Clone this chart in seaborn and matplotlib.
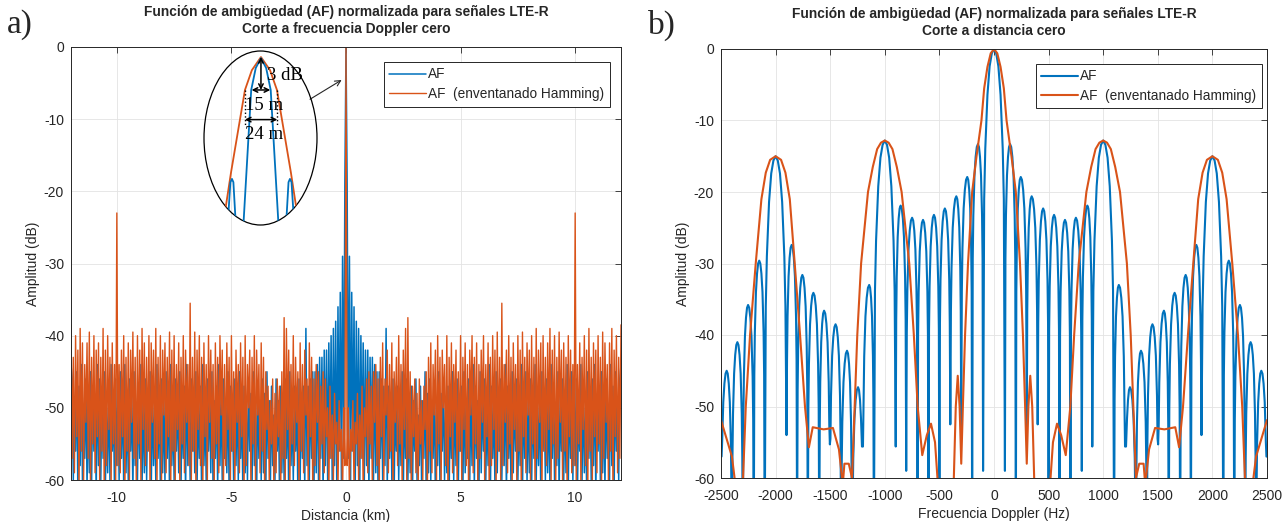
import numpy as np
import matplotlib
matplotlib.use('Agg')
import matplotlib.pyplot as plt
from matplotlib.patches import Ellipse
import seaborn as sns

# ---------------- datos ----------------
# a) corte a Doppler cero, mitad x >= 0 (la AF es simetrica), paso 0.05 km
dist_step_km = 0.05
af_dist_db = [0,
              -19, -57, -29, -60, -34, -56, -36, -62, -38, -58,
              -39, -61, -40, -57, -41, -60, -42, -58, -42, -62,
              -43, -57, -43, -60, -44, -59, -45, -62, -45, -57,
              -46, -60, -47, -58, -39, -61, -47, -57, -48, -60,
              -46, -62, -49, -56, -47, -60, -50, -58, -45, -62,
              -48, -57, -46, -60, -50, -59, -47, -62, -49, -56,
              -46, -60, -51, -58, -47, -61, -49, -57, -45, -62,
              -48, -59, -46, -60, -50, -57, -47, -62, -49, -58,
              -45, -61, -48, -56, -46, -60, -50, -59, -47, -62,
              -49, -57, -45, -60, -48, -58, -46, -61, -50, -56,
              -47, -62, -45, -59, -49, -57, -46, -60, -48, -58,
              -44, -61, -47, -57, -49, -62, -45, -59, -48, -56,
              -46, -60, -50, -58, -44, -62, -47, -57, -49, -61,
              -45, -59, -48, -56, -46, -60, -50, -58, -44, -62,
              -47, -57, -49, -61, -45, -59, -48, -56, -46, -60,
              -50, -58, -44, -62, -47, -57, -45, -60, -49, -59,
              -46, -61, -48, -57, -44, -60, -50, -58, -47, -62,
              -45, -56, -49, -60, -46, -59, -48, -61, -44, -57,
              -47, -60, -50, -58, -45, -62, -48, -56, -46, -60,
              -49, -59, -44, -61, -47, -57, -45, -60, -48, -58,
              -46, -62, -49, -56, -44, -60, -47, -59, -50, -61,
              -45, -57, -48, -60, -46, -58, -44, -62, -49, -56,
              -47, -60, -45, -59, -48, -61, -46, -57, -50, -60,
              -44, -58, -47, -62, -45, -56, -49, -60, -46, -44]
ham_dist_db = [0,
               -58, -50, -62, -53, -56, -49, -61, -52, -55, -48,
               -60, -51, -57, -47, -62, -50, -54, -46, -59, -45,
               -55, -47, -61, -45, -52, -44, -58, -46, -62, -43,
               -54, -41, -60, -46, -51, -42, -59, -44, -56, -41,
               -62, -45, -52, -43, -58, -40, -55, -44, -61, -42,
               -53, -39, -60, -37.5, -57, -45, -62, -47, -54, -46,
               -59, -48, -61, -46, -55, -49, -60, -47, -53, -45,
               -62, -43, -56, -41, -59, -44, -51, -42, -60, -40,
               -55, -43, -61, -42, -50, -44, -58, -40, -62, -43,
               -54, -41, -59, -44, -52, -42, -61, -45, -56, -40,
               -60, -43, -53, -41, -58, -44, -62, -42, -51, -40,
               -59, -43, -55, -41, -61, -44, -57, -42, -52, -40,
               -60, -44, -54, -41, -62, -43, -58, -40, -53, -42,
               -61, -39.5, -56, -43, -60, -35.5, -58, -44, -52, -42,
               -59, -40, -55, -43, -61, -41, -53, -44, -60, -40,
               -56, -42, -62, -39.5, -54, -43, -59, -41, -51, -42,
               -60, -40, -55, -43, -61, -39, -57, -42, -52, -41,
               -62, -40, -56, -43, -58, -41, -53, -39, -60, -42,
               -55, -40, -61, -43, -57, -39.5, -52, -42, -60, -41,
               -56, -43, -62, -40, -54, -42, -59, -44, -58, -23,
               -60, -44, -55, -41, -61, -43, -53, -40, -58, -42,
               -62, -39, -56, -43, -60, -41, -54, -42, -59, -40,
               -55, -43, -61, -39.5, -57, -41, -52, -44, -60, -41,
               -56, -39, -62, -42, -54, -40, -59, -43, -57, -38.5]

# b) corte a distancia cero, mitad f >= 0
lobe_hz = [0, 147, 245, 345, 450, 550, 650, 750, 855, 1000, 1143, 1245,
           1346, 1451, 1556, 1654, 1755, 1853, 2000, 2150, 2252, 2350, 2448, 2550]
lobe_db = [0, -13.3, -17.9, -20.6, -22.3, -23.2, -23.9, -23.6, -21.9, -12.8, -33.0, -47.3,
           -42.2, -38.5, -36.6, -34.1, -31.6, -27.4, -15.0, -29.6, -35.8, -41.0, -45.0, -50.0]
null_hz = [100, 200, 300, 400, 500, 600, 700, 804, 900, 1100, 1200, 1300,
           1400, 1503, 1600, 1705, 1803, 1900, 2100, 2200, 2300, 2400, 2500]
null_db = [-59, -70, -53, -52.5, -70, -70, -70, -59, -55.6, -70, -55.6, -70,
           -70, -55.3, -70, -70, -70, -54, -70, -70, -70, -70, -57]
main_lobe_hz = [0, 1000, 2000]

ham_hz = [0, 30, 60, 90, 115, 160, 200, 238, 265, 285, 300, 315, 332, 350, 375, 500, 540,
          577, 615, 657, 699, 734, 776, 846, 890, 930, 965, 1000, 1035, 1070, 1110, 1154,
          1217, 1252, 1276, 1300, 1330, 1370, 1385, 1420, 1475, 1560, 1660, 1695, 1731,
          1776, 1825, 1870, 1910, 1950, 2000, 2050, 2090, 2130, 2182, 2234, 2273, 2308,
          2343, 2400, 2500]
ham_db = [0, -0.6, -2.5, -5.5, -10, -15, -20, -30, -40, -50, -58, -50, -45.7, -50, -64, -64,
          -55, -52.4, -54, -56.8, -50, -40, -30, -20, -16.5, -14.0, -13.1, -12.8, -13.1,
          -14.0, -16.5, -20, -30, -40, -50, -60, -58, -58, -61, -56, -53, -53.2, -52.9,
          -55.7, -50, -40, -30, -21, -17.3, -15.5, -15, -15.5, -17.3, -21, -30, -40, -50,
          -64, -64, -57, -51.9]

# forma del lobulo (fraccion hacia el nulo, caida en dB)
side_frac = [0.2, 0.4, 0.6, 0.8, 0.9]
side_drop = [0.4, 1.8, 4.4, 10, 16]
main_drop = [0.6, 2.4, 6.4, 14, 21]

# detalle de la elipse (m, dB)
zoom_m = [-30, -27, -23, -12.3, -7, 0, 7, 12.3, 23, 27, 30]
zoom_ham_db = [-17, -13.6, -10.5, -3, -1.2, 0, -1.2, -3, -10.5, -13.6, -17]
zoom_af_m = [-28, -26.5, -23.5, -22.3, -21.2, -18.5, -14.5, -13.5, -7.5, -4, 0,
             4, 7.5, 13.5, 14.5, 18.5, 21.2, 22.3, 23.5, 26.5, 28]
zoom_af_db = [-17, -17, -11.4, -11.1, -11.4, -17, -17, -15.3, -3, -1.0, -0.1,
              -1.0, -3, -15.3, -17, -17, -11.4, -11.1, -11.4, -17, -17]

BLUE = '#0072BD'
ORANGE = '#D95319'
GRAY = '#262626'


def mirror(x, y):
    x = np.asarray(x, float)
    y = np.asarray(y, float)
    return np.concatenate([-x[:0:-1], x]), np.concatenate([y[:0:-1], y])


def lobe_curve():
    c = [-v for v in lobe_hz[:0:-1]] + lobe_hz
    p = lobe_db[:0:-1] + lobe_db
    nx = [-v for v in null_hz[::-1]] + null_hz
    nd = null_db[::-1] + null_db
    xs, ys = [], []
    for i in range(len(c)):
        drop = main_drop if abs(c[i]) in main_lobe_hz else side_drop
        if i > 0:
            for f, d in zip(side_frac[::-1], drop[::-1]):
                xs.append(c[i] + f * (nx[i - 1] - c[i]))
                ys.append(max(p[i] - d, nd[i - 1]))
        xs.append(c[i])
        ys.append(p[i])
        if i < len(c) - 1:
            for f, d in zip(side_frac, drop):
                xs.append(c[i] + f * (nx[i] - c[i]))
                ys.append(max(p[i] - d, nd[i]))
            xs.append(nx[i])
            ys.append(nd[i])
    return np.array(xs), np.array(ys)


sns.set_theme(style='whitegrid')
plt.rcParams['font.family'] = ['Liberation Sans', 'DejaVu Sans']
plt.rcParams['axes.unicode_minus'] = False
plt.rcParams['axes.edgecolor'] = GRAY

W, H = 1284, 522
fig = plt.figure(figsize=(W / 100, H / 100), dpi=100)
ax_a = fig.add_axes([71 / W, 1 - 480 / H, 550 / W, 433 / H])
ax_b = fig.add_axes([721 / W, 1 - 478 / H, 546 / W, 429 / H])

title1 = 'Función de ambigüedad (AF) normalizada para señales LTE-R'

# ---- a) ----
xa = np.arange(len(af_dist_db)) * dist_step_km
x1, y1 = mirror(xa, af_dist_db)
x2, y2 = mirror(xa, ham_dist_db)
sns.lineplot(x=x1, y=y1, ax=ax_a, color=BLUE, lw=1.1, estimator=None, sort=False, label='AF')
sns.lineplot(x=x2, y=y2, ax=ax_a, color=ORANGE, lw=1.0, estimator=None, sort=False,
             label='AF  (enventanado Hamming)')
ax_a.set_xlim(-12, 12)
ax_a.set_xticks([-10, -5, 0, 5, 10])
ax_a.set_xlabel('Distancia (km)')
ax_a.set_title(title1 + '\nCorte a frecuencia Doppler cero', fontsize=9.9,
               fontweight='bold', pad=10, linespacing=1.25)

# ---- b) ----
xb, yb = lobe_curve()
xh, yh = mirror(ham_hz, ham_db)
sns.lineplot(x=xb, y=yb, ax=ax_b, color=BLUE, lw=1.5, estimator=None, sort=False, label='AF')
sns.lineplot(x=xh, y=yh, ax=ax_b, color=ORANGE, lw=1.5, estimator=None, sort=False,
             label='AF  (enventanado Hamming)')
ax_b.set_xlim(-2500, 2500)
ax_b.set_xticks(np.arange(-2500, 2501, 500))
ax_b.set_xlabel('Frecuencia Doppler (Hz)')
ax_b.set_title(title1 + '\nCorte a distancia cero', fontsize=9.9,
               fontweight='bold', pad=10, linespacing=1.25)

for ax, anchor in [(ax_a, (0.98, 0.966)), (ax_b, (0.991, 0.966))]:
    ax.set_ylim(-60, 0)
    ax.set_yticks(np.arange(-60, 1, 10))
    ax.set_ylabel('Amplitud (dB)', fontsize=10, labelpad=3)
    ax.xaxis.label.set_size(10)
    ax.xaxis.labelpad = 3
    ax.tick_params(direction='in', length=4, width=0.6, labelsize=10, colors=GRAY,
                   top=True, right=True)
    ax.tick_params(axis='x', pad=8)
    ax.tick_params(axis='y', pad=5)
    for s in ax.spines.values():
        s.set_linewidth(0.7)
        s.set_color(GRAY)
    ax.grid(True, color='#e3e3e3', lw=0.6)
    leg = ax.legend(loc='upper right', bbox_to_anchor=anchor, fontsize=9.8, frameon=True,
                    fancybox=False, framealpha=1, edgecolor=GRAY, handlelength=2.7,
                    borderpad=0.42, labelspacing=0.4, handletextpad=0.15, borderaxespad=0)
    leg.get_frame().set_linewidth(0.7)

# ---- elipse de detalle ----
ax_in = fig.add_axes([204 / W, 1 - 225 / H, 113 / W, 174 / H])
ax_in.set_xlim(-43.8, 43.1)
ax_in.set_ylim(-15.3, 0.55)
ax_in.axis('off')
ax_in.patch.set_alpha(0)
ell = Ellipse((0.5, 0.5), 1, 1, transform=ax_in.transAxes, fill=False, ec='black', lw=0.9,
              clip_on=False)
ax_in.add_patch(ell)
l1, = ax_in.plot(zoom_m, zoom_ham_db, color=ORANGE, lw=1.3)
l2, = ax_in.plot(zoom_af_m, zoom_af_db, color=BLUE, lw=1.3)
l1.set_clip_path(ell)
l2.set_clip_path(ell)
serif = dict(family=['Liberation Serif', 'DejaVu Serif'], fontsize=13.5, color='black')
arrow = dict(arrowstyle='<->', lw=1.1, color='black', shrinkA=0, shrinkB=0, mutation_scale=8)
ax_in.annotate('', xy=(0, 0), xytext=(0, -3), arrowprops=arrow)
ax_in.annotate('', xy=(-7.2, -3), xytext=(7.2, -3), arrowprops=arrow)
ax_in.annotate('', xy=(-12.4, -5.7), xytext=(12.6, -5.7), arrowprops=arrow)
ax_in.plot([-12.4, -12.4], [-3, -6.3], color='black', lw=1.0, ls=':')
ax_in.plot([12.6, 12.6], [-3, -6.3], color='black', lw=1.0, ls=':')
ax_in.text(18.5, -1.64, '3 dB', ha='center', va='center', **serif)
ax_in.text(2.7, -4.45, '15 m', ha='center', va='center', **serif)
ax_in.text(2.3, -7.1, '24 m', ha='center', va='center', **serif)

ax_a.annotate('', xy=(-0.19, -4.57), xytext=(-1.57, -7.24),
              arrowprops=dict(arrowstyle='->', lw=0.8, color=GRAY, shrinkA=0, shrinkB=0,
                              mutation_scale=10))

fig.text(7 / W, 1 - 33 / H, 'a)', family=['Liberation Serif', 'DejaVu Serif'], fontsize=24)
fig.text(648 / W, 1 - 34 / H, 'b)', family=['Liberation Serif', 'DejaVu Serif'], fontsize=24)

fig.savefig('out.png', dpi=100)
